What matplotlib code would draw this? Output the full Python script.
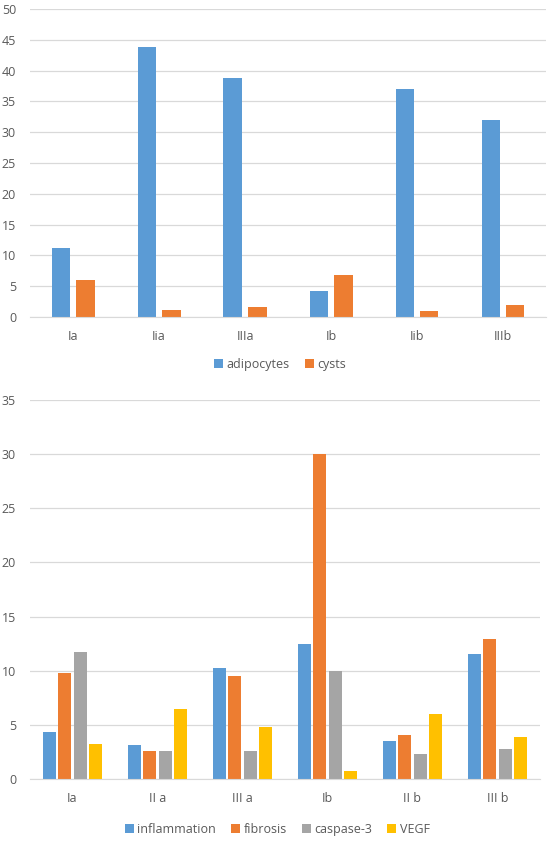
import numpy as np
import matplotlib
matplotlib.use("Agg")
import matplotlib.pyplot as plt

plt.rcParams["font.family"] = ["Open Sans", "DejaVu Sans"]

# top chart
groups_top = ["Ia", "Iia", "IIIa", "Ib", "Iib", "IIIb"]
adipocytes = [11.2, 43.8, 38.8, 4.2, 37.0, 32.0]
cysts = [6.0, 1.2, 1.7, 6.8, 1.0, 1.9]

# bottom chart
groups_bot = ["Ia", "II a", "III a", "Ib", "II b", "III b"]
inflammation = [4.3, 3.1, 10.25, 12.5, 3.5, 11.55]
fibrosis = [9.8, 2.6, 9.55, 30.0, 4.1, 12.9]
caspase3 = [11.7, 2.6, 2.6, 9.95, 2.3, 2.8]
vegf = [3.2, 6.45, 4.8, 0.7, 6.0, 3.9]

BLUE, ORANGE, GREY, YELLOW = "#5B9BD5", "#ED7D31", "#A5A5A5", "#FFC000"
TXT = "#595959"
GRID = "#D9D9D9"

W, H = 551, 843
fig = plt.figure(figsize=(W / 100, H / 100), dpi=100)


def px_axes(left, top, right, bottom):
    return fig.add_axes([left / W, 1 - bottom / H, (right - left) / W, (bottom - top) / H])


def style(ax, ymax, step, labels):
    ax.set_ylim(0, ymax)
    ax.set_xlim(-0.5, len(labels) - 0.5)
    ax.set_yticks(np.arange(0, ymax + 0.1, step))
    ax.set_xticks(range(len(labels)))
    ax.set_xticklabels(labels)
    ax.grid(axis="y", color=GRID, lw=0.9)
    ax.set_axisbelow(True)
    for s in ["top", "right", "left"]:
        ax.spines[s].set_visible(False)
    ax.spines["bottom"].set_color(GRID)
    ax.tick_params(axis="both", length=0, colors=TXT, labelsize=9)
    ax.tick_params(axis="y", pad=10)
    ax.tick_params(axis="x", pad=9)


# top panel
ax1 = px_axes(30, 9, 546, 317)
x = np.arange(len(groups_top))
w = 0.22
ax1.bar(x - 0.14, adipocytes, w, color=BLUE, label="adipocytes")
ax1.bar(x + 0.14, cysts, w, color=ORANGE, label="cysts")
style(ax1, 50, 5, groups_top)
ax1.legend(loc="center", bbox_to_anchor=(0.485, -0.153), ncol=2, frameon=False,
           fontsize=9, labelcolor=TXT, handlelength=0.7, handleheight=0.7,
           handletextpad=0.3, columnspacing=1.2)

# bottom panel
ax2 = px_axes(30, 400, 540, 779)
x = np.arange(len(groups_bot))
w = 0.148
step = 0.182
series = [(inflammation, BLUE, "inflammation"), (fibrosis, ORANGE, "fibrosis"),
          (caspase3, GREY, "caspase-3"), (vegf, YELLOW, "VEGF")]
for i, (vals, col, name) in enumerate(series):
    ax2.bar(x + (i - 1.5) * step, vals, w, color=col, label=name)
style(ax2, 35, 5, groups_bot)
ax2.legend(loc="center", bbox_to_anchor=(0.485, -0.132), ncol=4, frameon=False,
           fontsize=9, labelcolor=TXT, handlelength=0.7, handleheight=0.7,
           handletextpad=0.3, columnspacing=1.2)

fig.savefig("out.png", dpi=100)
